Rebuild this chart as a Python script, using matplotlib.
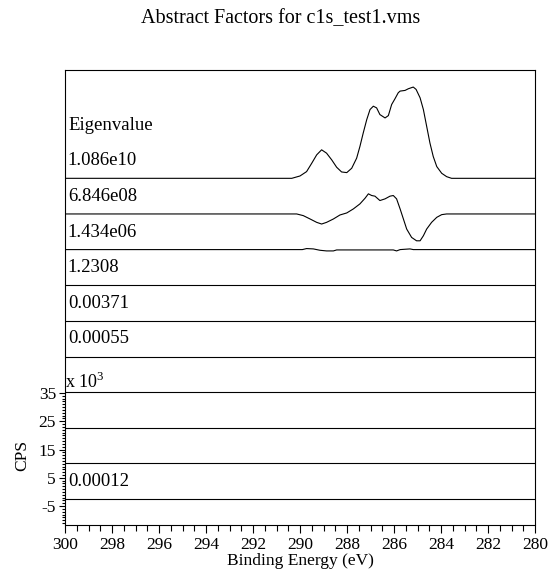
import matplotlib
matplotlib.use("Agg")
import matplotlib.pyplot as plt
import matplotlib.transforms as mtransforms
import numpy as np

plt.rcParams['font.family'] = ['Liberation Serif', 'DejaVu Serif']
plt.rcParams['mathtext.fontset'] = 'custom'
plt.rcParams['mathtext.rm'] = 'Liberation Serif'

# binding energy (eV) and abstract factor values (x 10^3 CPS)
be_f1 = [300.0, 290.35, 290.0, 289.72, 289.50, 289.29, 289.08, 288.87, 288.65, 288.44,
         288.23, 288.01, 287.80, 287.59, 287.45, 287.31, 287.16, 287.02, 286.88, 286.74,
         286.60, 286.38, 286.24, 286.10, 285.96, 285.82, 285.74, 285.53, 285.39, 285.18,
         285.06, 284.89, 284.75, 284.61, 284.47, 284.33, 284.18, 283.97, 283.76, 283.55, 280.0]
f1 = [0.0, 0.0, 0.83, 2.37, 5.34, 8.30, 10.08, 8.90, 6.52, 3.91,
      2.25, 2.02, 3.56, 7.12, 11.27, 16.01, 20.76, 24.32, 25.50, 24.91,
      22.54, 21.35, 22.18, 26.10, 28.11, 30.25, 30.84, 31.08, 31.67, 32.27,
      31.44, 28.47, 24.32, 18.39, 12.46, 7.71, 4.15, 1.78, 0.59, 0.0, 0.0]

be_f2 = [300.0, 290.14, 289.86, 289.57, 289.29, 289.08, 288.87, 288.58, 288.30, 288.01,
         287.73, 287.45, 287.23, 287.09, 286.95, 286.81, 286.60, 286.38, 286.17, 286.03,
         285.89, 285.74, 285.60, 285.46, 285.25, 285.04, 284.89, 284.75, 284.61, 284.40,
         284.18, 283.97, 283.76, 280.0]
f2 = [0.0, 0.0, -0.59, -1.78, -2.97, -3.56, -2.97, -1.78, -0.36, 0.36,
      1.78, 3.56, 5.58, 7.12, 6.52, 6.29, 4.74, 5.34, 6.29, 6.52,
      5.34, 1.78, -1.78, -5.34, -8.30, -9.49, -9.49, -7.71, -5.34, -2.97,
      -1.19, -0.24, 0.0, 0.0]

be_f3 = [300.0, 289.90, 289.72, 289.43, 289.15, 288.87, 288.58, 288.44, 286.03, 285.89,
         285.74, 285.32, 285.18, 280.0]
f3 = [0.0, 0.0, 0.36, 0.24, -0.24, -0.47, -0.47, -0.12, -0.12, -0.47,
      0.0, 0.24, 0.0, 0.0]

be_flat = [300.0, 280.0]
f_flat = [0.0, 0.0]

eigenvalues = ["1.086e10", "6.846e08", "1.434e06", "1.2308", "0.00371",
               "0.00055", "", "", "", "0.00012"]

curves = [(be_f1, f1), (be_f2, f2), (be_f3, f3)] + [(be_flat, f_flat)] * 7

step = 12.6
base0 = -2.5 + step * 9

fig = plt.figure(figsize=(5.49, 5.79), dpi=100)
ax = fig.add_axes([65 / 549, 1 - 524.5 / 579, 470 / 549, 454.5 / 579])

for i, (x, y) in enumerate(curves):
    off = base0 - i * step
    ax.plot(x, np.array(y) + off, color='black', lw=0.8)

trans = mtransforms.blended_transform_factory(ax.transAxes, ax.transData)
ax.text(0.008, base0 + step + 6.0, "Eigenvalue", transform=trans,
        ha='left', va='center', fontsize=13.5)
for i, lab in enumerate(eigenvalues):
    if lab:
        ax.text(0.006, base0 - i * step + 6.2, lab, transform=trans,
                ha='left', va='center', fontsize=13.5)

ax.text(0.0, 36.6, r"x 10$^{3}$", transform=trans, ha='left', va='baseline',
        fontsize=13)

ax.set_xlim(300, 280)
ax.set_ylim(-11.5, 149.2)

ax.set_xticks(np.arange(300, 279, -2))
ax.set_xticks(np.arange(300, 279.9, -0.5), minor=True)
ax.set_xticklabels([str(v) for v in range(300, 279, -2)], fontsize=12.5)

ax.set_yticks([-5, 5, 15, 25, 35])
ax.set_yticklabels(["-5", "5", "15", "25", "35"], fontsize=12.5)
ax.set_yticks(np.arange(-11, 36, 1), minor=True)

ax.tick_params(axis='x', which='major', direction='out', length=6, width=0.8, pad=3)
ax.tick_params(axis='x', which='minor', direction='out', length=4, width=0.8)
ax.tick_params(axis='y', which='major', direction='out', length=4.5, width=0.8, pad=2)
ax.tick_params(axis='y', which='minor', direction='out', length=2.2, width=0.8)
ax.tick_params(top=False, right=False)

for s in ax.spines.values():
    s.set_linewidth(0.8)

ax.set_xlabel("Binding Energy (eV)", fontsize=12.5, labelpad=0)
ax.set_ylabel("CPS", fontsize=12.5)
ax.yaxis.set_label_coords(-0.073, 0.153)

fig.text(281 / 549, 1 - 19 / 579, "Abstract Factors for c1s_test1.vms",
         ha='center', va='center', fontsize=14.5)

fig.savefig("out.png", dpi=100)
